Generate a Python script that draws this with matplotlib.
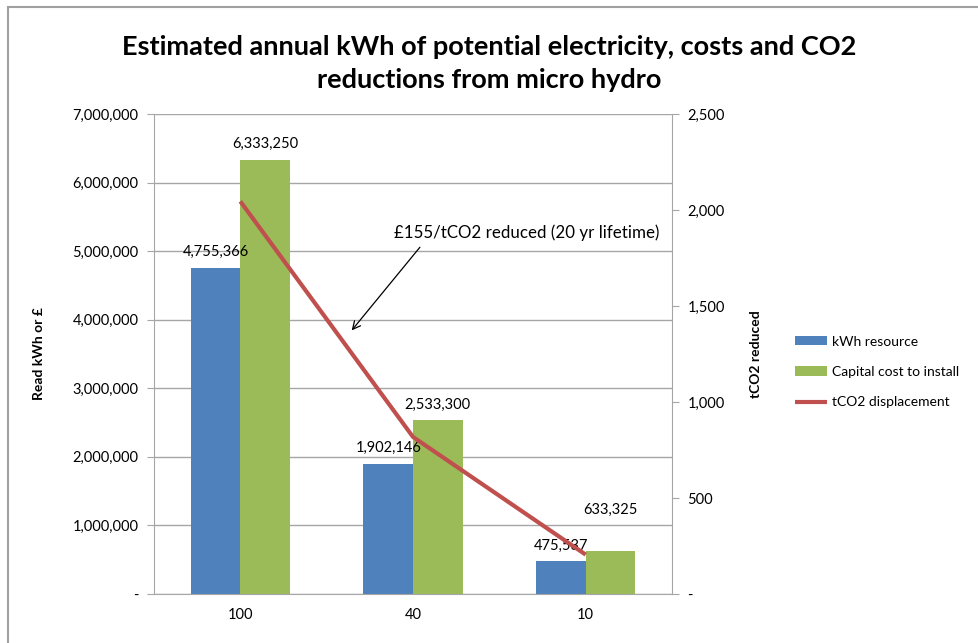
import matplotlib
matplotlib.use("Agg")
import matplotlib.pyplot as plt
from matplotlib.patches import Rectangle
from matplotlib.ticker import FuncFormatter, MultipleLocator
import numpy as np

plt.rcParams['font.family'] = ['Lato', 'DejaVu Sans']

categories = ["100", "40", "10"]
kwh_resource = [4755366, 1902146, 475537]
capital_cost = [6333250, 2533300, 633325]
tco2_displacement = [2045, 818, 205]

blue = "#4F81BD"
green = "#9BBB59"
red = "#C0504D"
grid_col = "#A6A6A6"

fig = plt.figure(figsize=(9.79, 6.43), dpi=100)
W, H = 979, 643
ax = fig.add_axes([154 / W, 1 - 594 / H, (672 - 154) / W, (594 - 114) / H])
ax2 = ax.twinx()

x = np.arange(len(categories))
bw = 0.287
ax.bar(x - bw / 2, kwh_resource, bw, color=blue, label="kWh resource", zorder=2)
ax.bar(x + bw / 2, capital_cost, bw, color=green, label="Capital cost to install", zorder=2)
ax2.plot(x, tco2_displacement, color=red, lw=3, label="tCO2 displacement",
         solid_capstyle="butt", zorder=3)

# value labels above each bar; the last green label is lifted clear of the line
lift = [0, 0, 360000]
for xi, v in zip(x, kwh_resource):
    ax.text(xi - bw / 2, v + 230000, f"{v:,}", ha="center", va="center", fontsize=10.5, zorder=4)
for xi, v, dv in zip(x, capital_cost, lift):
    ax.text(xi + bw / 2, v + 230000 + dv, f"{v:,}", ha="center", va="center", fontsize=10.5, zorder=4)

ax.set_xlim(-0.5, len(categories) - 0.5)
ax.set_ylim(0, 7000000)
ax2.set_ylim(0, 2500)
ax.yaxis.set_major_locator(MultipleLocator(1000000))
ax2.yaxis.set_major_locator(MultipleLocator(500))

fmt = FuncFormatter(lambda v, p: "-" if v == 0 else f"{v:,.0f}")
ax.yaxis.set_major_formatter(fmt)
ax2.yaxis.set_major_formatter(fmt)
ax.set_xticks(x)
ax.set_xticklabels(categories)

ax.grid(axis="y", color=grid_col, lw=1, zorder=0)
ax.set_axisbelow(True)
for a in (ax, ax2):
    for s in a.spines.values():
        s.set_color(grid_col)
    a.spines["top"].set_visible(False)
ax.spines["right"].set_visible(False)
ax2.spines["left"].set_visible(False)
ax2.spines["bottom"].set_visible(False)

ax.tick_params(axis="y", length=5, color=grid_col, labelsize=10.5, pad=6)
ax.tick_params(axis="x", length=0, labelsize=10.5, pad=10)
ax2.tick_params(axis="y", length=5, color=grid_col, labelsize=10.5, pad=6)

ax.set_ylabel("Read kWh or £", fontsize=10, fontweight="bold", labelpad=20)
ax2.set_ylabel("tCO2 reduced", fontsize=10, fontweight="bold", labelpad=18)

ax2.text(1.66, 1884, "£155/tCO2 reduced (20 yr lifetime)", fontsize=12.2,
         ha="center", va="center", zorder=4)
ax2.annotate("", xy=(0.645, 1373), xytext=(1.04, 1806),
             arrowprops=dict(arrowstyle="->", color="black", lw=0.9,
                             shrinkA=0, shrinkB=0, mutation_scale=14))

h1, l1 = ax.get_legend_handles_labels()
h2, l2 = ax2.get_legend_handles_labels()
fig.legend(h1 + h2, l1 + l2, loc="center left", bbox_to_anchor=(783 / W, 1 - 372 / H),
           frameon=False, fontsize=10, handlelength=2.3, handleheight=0.65,
           labelspacing=1.33, handletextpad=0.35)

fig.text(0.5, 1 - 47 / H, "Estimated annual kWh of potential electricity, costs and CO2",
         ha="center", va="center", fontsize=19.5, fontweight="bold")
fig.text(0.5, 1 - 80 / H, "reductions from micro hydro",
         ha="center", va="center", fontsize=19.5, fontweight="bold")

fig.patches.append(Rectangle((8.5 / W, -0.05), 1.1, 1 - 6.5 / H + 0.05,
                             transform=fig.transFigure, fill=False,
                             edgecolor="#A0A0A0", lw=1.5))

fig.savefig("out.png", dpi=100)
